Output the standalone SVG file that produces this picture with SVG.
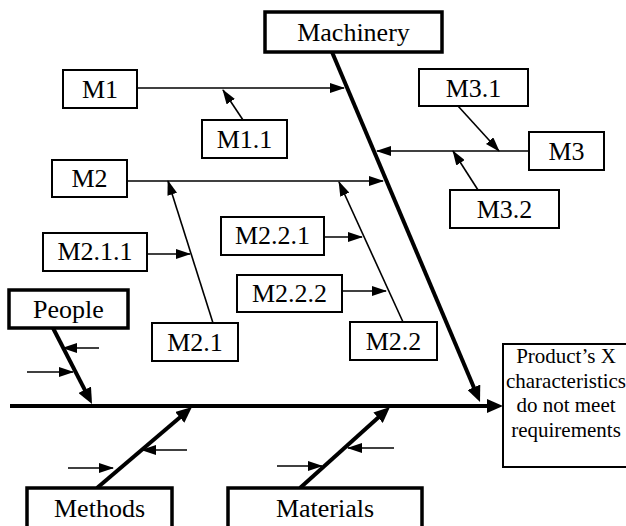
<svg xmlns="http://www.w3.org/2000/svg" width="626" height="526" viewBox="0 0 626 526">
<defs>
<marker id="a" markerWidth="15" markerHeight="10" refX="14" refY="5" orient="auto" markerUnits="userSpaceOnUse"><path d="M0,0 L15,5 L0,10 z" fill="#000"/></marker>
<marker id="A" markerWidth="16" markerHeight="14" refX="10" refY="7" orient="auto" markerUnits="userSpaceOnUse"><path d="M0,0 L16,7 L0,14 z" fill="#000"/></marker>
</defs>
<style>
rect{fill:#fff;stroke:#000}
.b{stroke-width:2}
.t{stroke-width:3.5}
text{font-family:'Liberation Serif','DejaVu Serif',serif;font-size:26px;text-anchor:middle;fill:#000}
.p{font-size:21px}
.th{stroke:#000;stroke-width:1.6;fill:none;marker-end:url(#a)}
.bk{stroke:#000;stroke-width:4;fill:none;marker-end:url(#A)}
</style>
<g id="connectors">
<line class="bk" x1="10" y1="406" x2="497" y2="406"/>
<line class="bk" x1="332" y1="52" x2="477.7" y2="396.5"/>
<line class="bk" x1="53" y1="328" x2="89.3" y2="398.7"/>
<line class="bk" x1="97" y1="488" x2="187.4" y2="410.9"/>
<line class="bk" x1="300" y1="488" x2="385.5" y2="411"/>
<line class="th" x1="137" y1="88" x2="344" y2="88"/>
<line class="th" x1="243" y1="120" x2="223" y2="90"/>
<line class="th" x1="529" y1="151" x2="377" y2="151"/>
<line class="th" x1="458" y1="106" x2="499" y2="151"/>
<line class="th" x1="478" y1="190" x2="453" y2="151"/>
<line class="th" x1="127" y1="181" x2="383" y2="181"/>
<line class="th" x1="213" y1="323" x2="168" y2="181"/>
<line class="th" x1="147" y1="254" x2="190" y2="254"/>
<line class="th" x1="403" y1="322" x2="339" y2="182"/>
<line class="th" x1="324" y1="237" x2="362" y2="237"/>
<line class="th" x1="342" y1="291" x2="386" y2="291"/>
<line class="th" x1="99" y1="348" x2="63" y2="348"/>
<line class="th" x1="27" y1="372" x2="73" y2="372"/>
<line class="th" x1="187" y1="450" x2="142" y2="450"/>
<line class="th" x1="68" y1="468" x2="113" y2="468"/>
<line class="th" x1="394" y1="448" x2="348" y2="448"/>
<line class="th" x1="277" y1="466" x2="322" y2="466"/>
</g>
<g font-family="Liberation Serif, DejaVu Serif, serif">
<g id="machinery"><rect class="t" x="265" y="12" width="177" height="40"/><text x="353.5" y="41">Machinery</text></g>
<g id="m1"><rect class="b" x="63" y="70" width="74" height="38"/><text x="100" y="98">M1</text></g>
<g id="m1-1"><rect class="b" x="202" y="120" width="85" height="38"/><text x="244.5" y="148">M1.1</text></g>
<g id="m3-1"><rect class="b" x="419" y="69" width="109" height="37"/><text x="473.5" y="97">M3.1</text></g>
<g id="m3"><rect class="b" x="529" y="132" width="75" height="38"/><text x="566.5" y="160">M3</text></g>
<g id="m3-2"><rect class="b" x="450" y="190" width="109" height="38"/><text x="504.5" y="218">M3.2</text></g>
<g id="m2"><rect class="b" x="52" y="160" width="75" height="37"/><text x="89.5" y="187">M2</text></g>
<g id="m2-1-1"><rect class="b" x="43" y="233" width="104" height="38"/><text x="95" y="260">M2.1.1</text></g>
<g id="m2-2-1"><rect class="b" x="221" y="217" width="103" height="38"/><text x="272.5" y="244">M2.2.1</text></g>
<g id="m2-2-2"><rect class="b" x="237" y="275" width="105" height="37"/><text x="289.5" y="302">M2.2.2</text></g>
<g id="m2-1"><rect class="b" x="152" y="323" width="86" height="38"/><text x="195" y="351">M2.1</text></g>
<g id="m2-2"><rect class="b" x="350" y="322" width="87" height="38"/><text x="393.5" y="350">M2.2</text></g>
<g id="people"><rect class="t" x="9" y="290" width="119" height="38"/><text x="68.5" y="318">People</text></g>
<g id="methods"><rect class="t" x="27" y="488" width="145" height="44"/><text x="99.5" y="517">Methods</text></g>
<g id="materials"><rect class="t" x="228" y="488" width="194" height="44"/><text x="325" y="517">Materials</text></g>
<g id="product"><rect class="b" x="503" y="344" width="128" height="123"/>
<text class="p" x="566" y="363">Product’s X</text>
<text class="p" x="566" y="388">characteristics</text>
<text class="p" x="566" y="412">do not meet</text>
<text class="p" x="566" y="437">requirements</text></g>
</g>
</svg>
